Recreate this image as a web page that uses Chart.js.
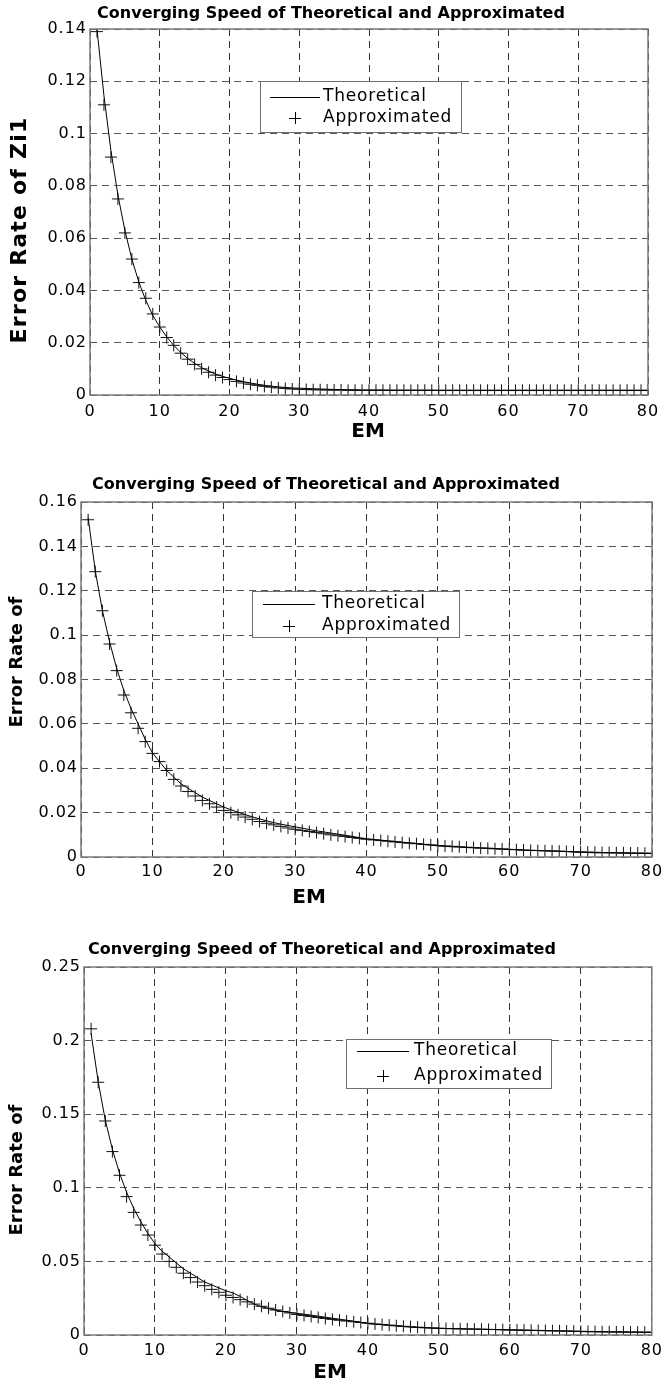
<!DOCTYPE html>
<html>
<head>
<meta charset="utf-8">
<script src="https://cdn.jsdelivr.net/npm/chart.js@4.4.1/dist/chart.umd.min.js"></script>
<style>
  html, body { margin: 0; padding: 0; background: #fff; }
  body { width: 668px; height: 1394px; position: relative; overflow: hidden; }
  .panel { position: absolute; left: 0; }
  canvas { display: block; }
</style>
</head>
<body>
<div class="panel" style="top:0"><canvas id="chartZi1" width="668" height="455"></canvas></div>
<div class="panel" style="top:460px"><canvas id="chartB" width="668" height="460"></canvas></div>
<div class="panel" style="top:920px"><canvas id="chartC" width="668" height="474"></canvas></div>

<script>
/* ── data ── */

const emSteps = [
   1,  2,  3,  4,  5,  6,  7,  8,  9, 10,
  11, 12, 13, 14, 15, 16, 17, 18, 19, 20,
  21, 22, 23, 24, 25, 26, 27, 28, 29, 30,
  31, 32, 33, 34, 35, 36, 37, 38, 39, 40,
  41, 42, 43, 44, 45, 46, 47, 48, 49, 50,
  51, 52, 53, 54, 55, 56, 57, 58, 59, 60,
  61, 62, 63, 64, 65, 66, 67, 68, 69, 70,
  71, 72, 73, 74, 75, 76, 77, 78, 79, 80
];
const xTicks = [0, 10, 20, 30, 40, 50, 60, 70, 80];
const seriesNames = ['Theoretical', 'Approximated'];
const plotTitle = 'Converging Speed of Theoretical and Approximated';

// panel 1 – Error Rate of Zi1
const theo1 = [
  0.1400, 0.1145, 0.0935, 0.0765, 0.0630, 0.0520, 0.0432, 0.0362, 0.0305, 0.0260,
  0.0222, 0.0190, 0.0163, 0.0140, 0.0121, 0.0105, 0.0091, 0.0080, 0.0071, 0.0064,
  0.0057, 0.0051, 0.0046, 0.0041, 0.0037, 0.0034, 0.0031, 0.0029, 0.0027, 0.0026,
  0.0025, 0.0024, 0.0023, 0.0022, 0.0021, 0.0021, 0.0020, 0.0020, 0.0019, 0.0019,
  0.0019, 0.0019, 0.0018, 0.0018, 0.0018, 0.0018, 0.0018, 0.0018, 0.0018, 0.0017,
  0.0017, 0.0017, 0.0017, 0.0017, 0.0017, 0.0017, 0.0017, 0.0017, 0.0017, 0.0017,
  0.0017, 0.0017, 0.0017, 0.0017, 0.0017, 0.0017, 0.0017, 0.0017, 0.0017, 0.0017,
  0.0017, 0.0017, 0.0017, 0.0017, 0.0017, 0.0017, 0.0017, 0.0017, 0.0017, 0.0017
];
const approx1 = [
  0.1390, 0.1110, 0.0910, 0.0750, 0.0620, 0.0520, 0.0430, 0.0370, 0.0310, 0.0260,
  0.0220, 0.0190, 0.0160, 0.0137, 0.0117, 0.0100, 0.0087, 0.0076, 0.0067, 0.0059,
  0.0052, 0.0046, 0.0041, 0.0037, 0.0033, 0.0030, 0.0027, 0.0025, 0.0023, 0.0022,
  0.0021, 0.0020, 0.0020, 0.0019, 0.0019, 0.0019, 0.0018, 0.0018, 0.0018, 0.0018,
  0.0018, 0.0018, 0.0018, 0.0018, 0.0018, 0.0018, 0.0018, 0.0018, 0.0018, 0.0018,
  0.0018, 0.0018, 0.0018, 0.0018, 0.0018, 0.0018, 0.0018, 0.0018, 0.0018, 0.0018,
  0.0018, 0.0018, 0.0018, 0.0018, 0.0018, 0.0018, 0.0018, 0.0018, 0.0018, 0.0018,
  0.0018, 0.0018, 0.0018, 0.0018, 0.0018, 0.0018, 0.0018, 0.0018, 0.0018, 0.0018
];

// panel 2
const theo2 = [
  0.1530, 0.1290, 0.1110, 0.0970, 0.0850, 0.0750, 0.0670, 0.0600, 0.0530, 0.0470,
  0.0430, 0.0390, 0.0360, 0.0330, 0.0310, 0.0290, 0.0270, 0.0255, 0.0240, 0.0225,
  0.0213, 0.0202, 0.0191, 0.0181, 0.0172, 0.0163, 0.0155, 0.0148, 0.0142, 0.0136,
  0.0130, 0.0124, 0.0118, 0.0113, 0.0108, 0.0103, 0.0098, 0.0093, 0.0087, 0.0082,
  0.0079, 0.0076, 0.0073, 0.0070, 0.0067, 0.0064, 0.0061, 0.0057, 0.0053, 0.0050,
  0.0048, 0.0046, 0.0045, 0.0043, 0.0042, 0.0041, 0.0040, 0.0038, 0.0036, 0.0035,
  0.0033, 0.0031, 0.0030, 0.0029, 0.0028, 0.0027, 0.0026, 0.0025, 0.0022, 0.0021,
  0.0020, 0.0019, 0.0019, 0.0018, 0.0018, 0.0017, 0.0017, 0.0016, 0.0016, 0.0015
];
const approx2 = [
  0.1520, 0.1286, 0.1110, 0.0960, 0.0840, 0.0730, 0.0650, 0.0580, 0.0520, 0.0467,
  0.0430, 0.0390, 0.0350, 0.0320, 0.0295, 0.0275, 0.0255, 0.0240, 0.0225, 0.0210,
  0.0200, 0.0190, 0.0180, 0.0170, 0.0160, 0.0152, 0.0145, 0.0138, 0.0131, 0.0125,
  0.0120, 0.0115, 0.0110, 0.0105, 0.0100, 0.0096, 0.0092, 0.0088, 0.0084, 0.0080,
  0.0077, 0.0074, 0.0071, 0.0068, 0.0065, 0.0062, 0.0060, 0.0057, 0.0055, 0.0052,
  0.0050, 0.0048, 0.0046, 0.0044, 0.0042, 0.0040, 0.0039, 0.0037, 0.0036, 0.0034,
  0.0033, 0.0031, 0.0030, 0.0029, 0.0028, 0.0027, 0.0026, 0.0025, 0.0024, 0.0023,
  0.0022, 0.0021, 0.0020, 0.0020, 0.0019, 0.0019, 0.0018, 0.0018, 0.0017, 0.0017
];

// panel 3
const theo3 = [
  0.2050, 0.1720, 0.1460, 0.1260, 0.1100, 0.0970, 0.0860, 0.0770, 0.0690, 0.0620,
  0.0570, 0.0530, 0.0490, 0.0450, 0.0420, 0.0390, 0.0360, 0.0340, 0.0320, 0.0300,
  0.0285, 0.0262, 0.0235, 0.0210, 0.0192, 0.0180, 0.0170, 0.0160, 0.0153, 0.0147,
  0.0141, 0.0135, 0.0128, 0.0121, 0.0114, 0.0107, 0.0100, 0.0093, 0.0086, 0.0079,
  0.0074, 0.0070, 0.0066, 0.0062, 0.0058, 0.0054, 0.0051, 0.0049, 0.0047, 0.0045,
  0.0044, 0.0043, 0.0042, 0.0041, 0.0040, 0.0039, 0.0038, 0.0037, 0.0035, 0.0034,
  0.0033, 0.0032, 0.0031, 0.0030, 0.0029, 0.0028, 0.0027, 0.0026, 0.0025, 0.0023,
  0.0022, 0.0022, 0.0021, 0.0021, 0.0020, 0.0020, 0.0019, 0.0019, 0.0018, 0.0018
];
const approx3 = [
  0.2080, 0.1717, 0.1454, 0.1246, 0.1085, 0.0940, 0.0833, 0.0747, 0.0679, 0.0610,
  0.0550, 0.0500, 0.0460, 0.0420, 0.0390, 0.0360, 0.0335, 0.0310, 0.0290, 0.0270,
  0.0255, 0.0240, 0.0225, 0.0210, 0.0195, 0.0182, 0.0170, 0.0160, 0.0150, 0.0140,
  0.0133, 0.0126, 0.0119, 0.0112, 0.0106, 0.0100, 0.0095, 0.0090, 0.0085, 0.0080,
  0.0075, 0.0071, 0.0067, 0.0063, 0.0059, 0.0056, 0.0053, 0.0050, 0.0048, 0.0046,
  0.0044, 0.0043, 0.0042, 0.0041, 0.0040, 0.0039, 0.0038, 0.0037, 0.0036, 0.0035,
  0.0034, 0.0033, 0.0032, 0.0031, 0.0030, 0.0029, 0.0028, 0.0027, 0.0026, 0.0025,
  0.0024, 0.0023, 0.0022, 0.0022, 0.0021, 0.0021, 0.0020, 0.0020, 0.0019, 0.0019
];

const yTicks1 = [0, 0.02, 0.04, 0.06, 0.08, 0.1, 0.12, 0.14];
const yTicks2 = [0, 0.02, 0.04, 0.06, 0.08, 0.1, 0.12, 0.14, 0.16];
const yTicks3 = [0, 0.05, 0.1, 0.15, 0.2, 0.25];

/* ── MATLAB-ish look ── */

Chart.defaults.font.family = '"DejaVu Sans", "Liberation Sans", sans-serif';
Chart.defaults.color = '#000';
Chart.defaults.animation = false;

const FONT = '"DejaVu Sans", "Liberation Sans", sans-serif';

// titles, axis labels, box frame and the legend box
const matlabDecor = {
  id: 'matlabDecor',
  beforeDraw(chart, args, o) {
    chart.ctx.letterSpacing = o.tickSpacing || '0px';
  },
  afterDraw(chart, args, o) {
    const { ctx, chartArea: a } = chart;
    ctx.save();
    ctx.fillStyle = '#000';
    ctx.textBaseline = 'middle';

    // frame
    ctx.strokeStyle = '#7a7a7a';
    ctx.lineWidth = 1.5;
    ctx.setLineDash([]);
    ctx.strokeRect(a.left, a.top, a.right - a.left, a.bottom - a.top);

    // title
    ctx.letterSpacing = '0px';
    ctx.textAlign = 'center';
    ctx.font = 'bold 16px ' + FONT;
    ctx.fillText(plotTitle, o.titleX, o.titleY);

    // x label
    ctx.font = 'bold 20px ' + FONT;
    ctx.fillText('EM', o.xLabelX, o.xLabelY);

    // y label
    ctx.save();
    ctx.translate(o.yLabelX, o.yLabelY);
    ctx.rotate(-Math.PI / 2);
    ctx.letterSpacing = o.yLabelSpacing;
    ctx.font = 'bold ' + o.yLabelSize + 'px ' + FONT;
    ctx.fillText(o.yLabel, 0, 0);
    ctx.restore();

    // legend
    const L = o.legend;
    ctx.fillStyle = '#fff';
    ctx.fillRect(L.x, L.y, L.w, L.h);
    ctx.strokeStyle = '#6f6f6f';
    ctx.lineWidth = 1;
    ctx.strokeRect(L.x + 0.5, L.y + 0.5, L.w, L.h);

    ctx.strokeStyle = '#000';
    ctx.beginPath();
    ctx.moveTo(L.lineX0, L.row1 + 0.5);
    ctx.lineTo(L.lineX1, L.row1 + 0.5);
    ctx.stroke();

    const cx = Math.round((L.lineX0 + L.lineX1) / 2);
    ctx.beginPath();
    ctx.moveTo(cx - 6, L.row2 + 0.5);
    ctx.lineTo(cx + 6, L.row2 + 0.5);
    ctx.moveTo(cx + 0.5, L.row2 - 6);
    ctx.lineTo(cx + 0.5, L.row2 + 6);
    ctx.stroke();

    ctx.fillStyle = '#000';
    ctx.textAlign = 'left';
    ctx.letterSpacing = '0.8px';
    ctx.font = '17px ' + FONT;
    ctx.fillText(seriesNames[0], L.textX, L.row1);
    ctx.fillText(seriesNames[1], L.textX, L.row2);

    ctx.restore();
  }
};

function makePanel(id, theo, approx, yTicks, box, decor) {
  const canvas = document.getElementById(id);
  const W = canvas.width, H = canvas.height;
  const yMax = yTicks[yTicks.length - 1];

  return new Chart(canvas, {
    type: 'line',
    data: {
      datasets: [
        {
          label: seriesNames[0],
          data: emSteps.map((x, i) => ({ x, y: theo[i] })),
          borderColor: '#000',
          borderWidth: 1,
          pointRadius: 0,
          tension: 0,
          fill: false
        },
        {
          label: seriesNames[1],
          data: emSteps.map((x, i) => ({ x, y: approx[i] })),
          showLine: false,
          pointStyle: 'cross',
          pointRadius: 6,
          borderColor: '#111',
          backgroundColor: '#111',
          borderWidth: 1
        }
      ]
    },
    options: {
      responsive: false,
      animation: false,
      layout: { padding: { top: box.top, right: W - box.right, bottom: 0, left: 0 } },
      plugins: {
        legend: { display: false },
        title: { display: false },
        tooltip: { enabled: false },
        matlabDecor: decor
      },
      scales: {
        x: {
          type: 'linear',
          min: 0,
          max: 80,
          afterBuildTicks: s => { s.ticks = xTicks.map(v => ({ value: v })); },
          afterFit: s => { s.height = H - box.bottom; },
          grid: { color: '#333', lineWidth: 1, drawTicks: false },
          border: { display: false, dash: [7, 5] },
          ticks: { font: { size: 16 }, padding: decor.xTickPad, maxRotation: 0, color: '#000' }
        },
        y: {
          type: 'linear',
          min: 0,
          max: yMax,
          afterBuildTicks: s => { s.ticks = yTicks.map(v => ({ value: v })); },
          afterFit: s => { s.width = box.left; },
          grid: { color: '#555', lineWidth: 1, drawTicks: false },
          border: { display: false, dash: [7, 5] },
          ticks: {
            font: { size: 16 },
            padding: 3,
            color: '#000',
            callback: v => String(+v.toFixed(4))
          }
        }
      }
    },
    plugins: [matlabDecor]
  });
}

makePanel('chartZi1', theo1, approx1, yTicks1,
  { left: 90, top: 29, right: 648, bottom: 395 },
  {
    tickSpacing: '1px', xTickPad: 7,
    titleX: 331, titleY: 14,
    xLabelX: 368, xLabelY: 432,
    yLabel: 'Error Rate of Zi1', yLabelX: 20, yLabelY: 230, yLabelSize: 22, yLabelSpacing: '1.2px',
    legend: { x: 260, y: 81, w: 201, h: 51, lineX0: 270, lineX1: 320, textX: 323, row1: 97, row2: 118 }
  });

makePanel('chartB', theo2, approx2, yTicks2,
  { left: 81, top: 42, right: 652, bottom: 397 },
  {
    tickSpacing: '1px', xTickPad: 5,
    titleX: 326, titleY: 25,
    xLabelX: 309, xLabelY: 438,
    yLabel: 'Error Rate of', yLabelX: 17, yLabelY: 202, yLabelSize: 18, yLabelSpacing: '0px',
    legend: { x: 252, y: 131, w: 207, h: 46, lineX0: 263, lineX1: 315, textX: 322, row1: 144, row2: 166 }
  });

makePanel('chartC', theo3, approx3, yTicks3,
  { left: 84, top: 47, right: 655, bottom: 415 },
  {
    tickSpacing: '1px', xTickPad: 6,
    titleX: 322, titleY: 30,
    xLabelX: 330, xLabelY: 453,
    yLabel: 'Error Rate of', yLabelX: 17, yLabelY: 250, yLabelSize: 18, yLabelSpacing: '0px',
    legend: { x: 346, y: 119, w: 205, h: 49, lineX0: 357, lineX1: 409, textX: 414, row1: 131, row2: 156 }
  });
</script>
</body>
</html>
